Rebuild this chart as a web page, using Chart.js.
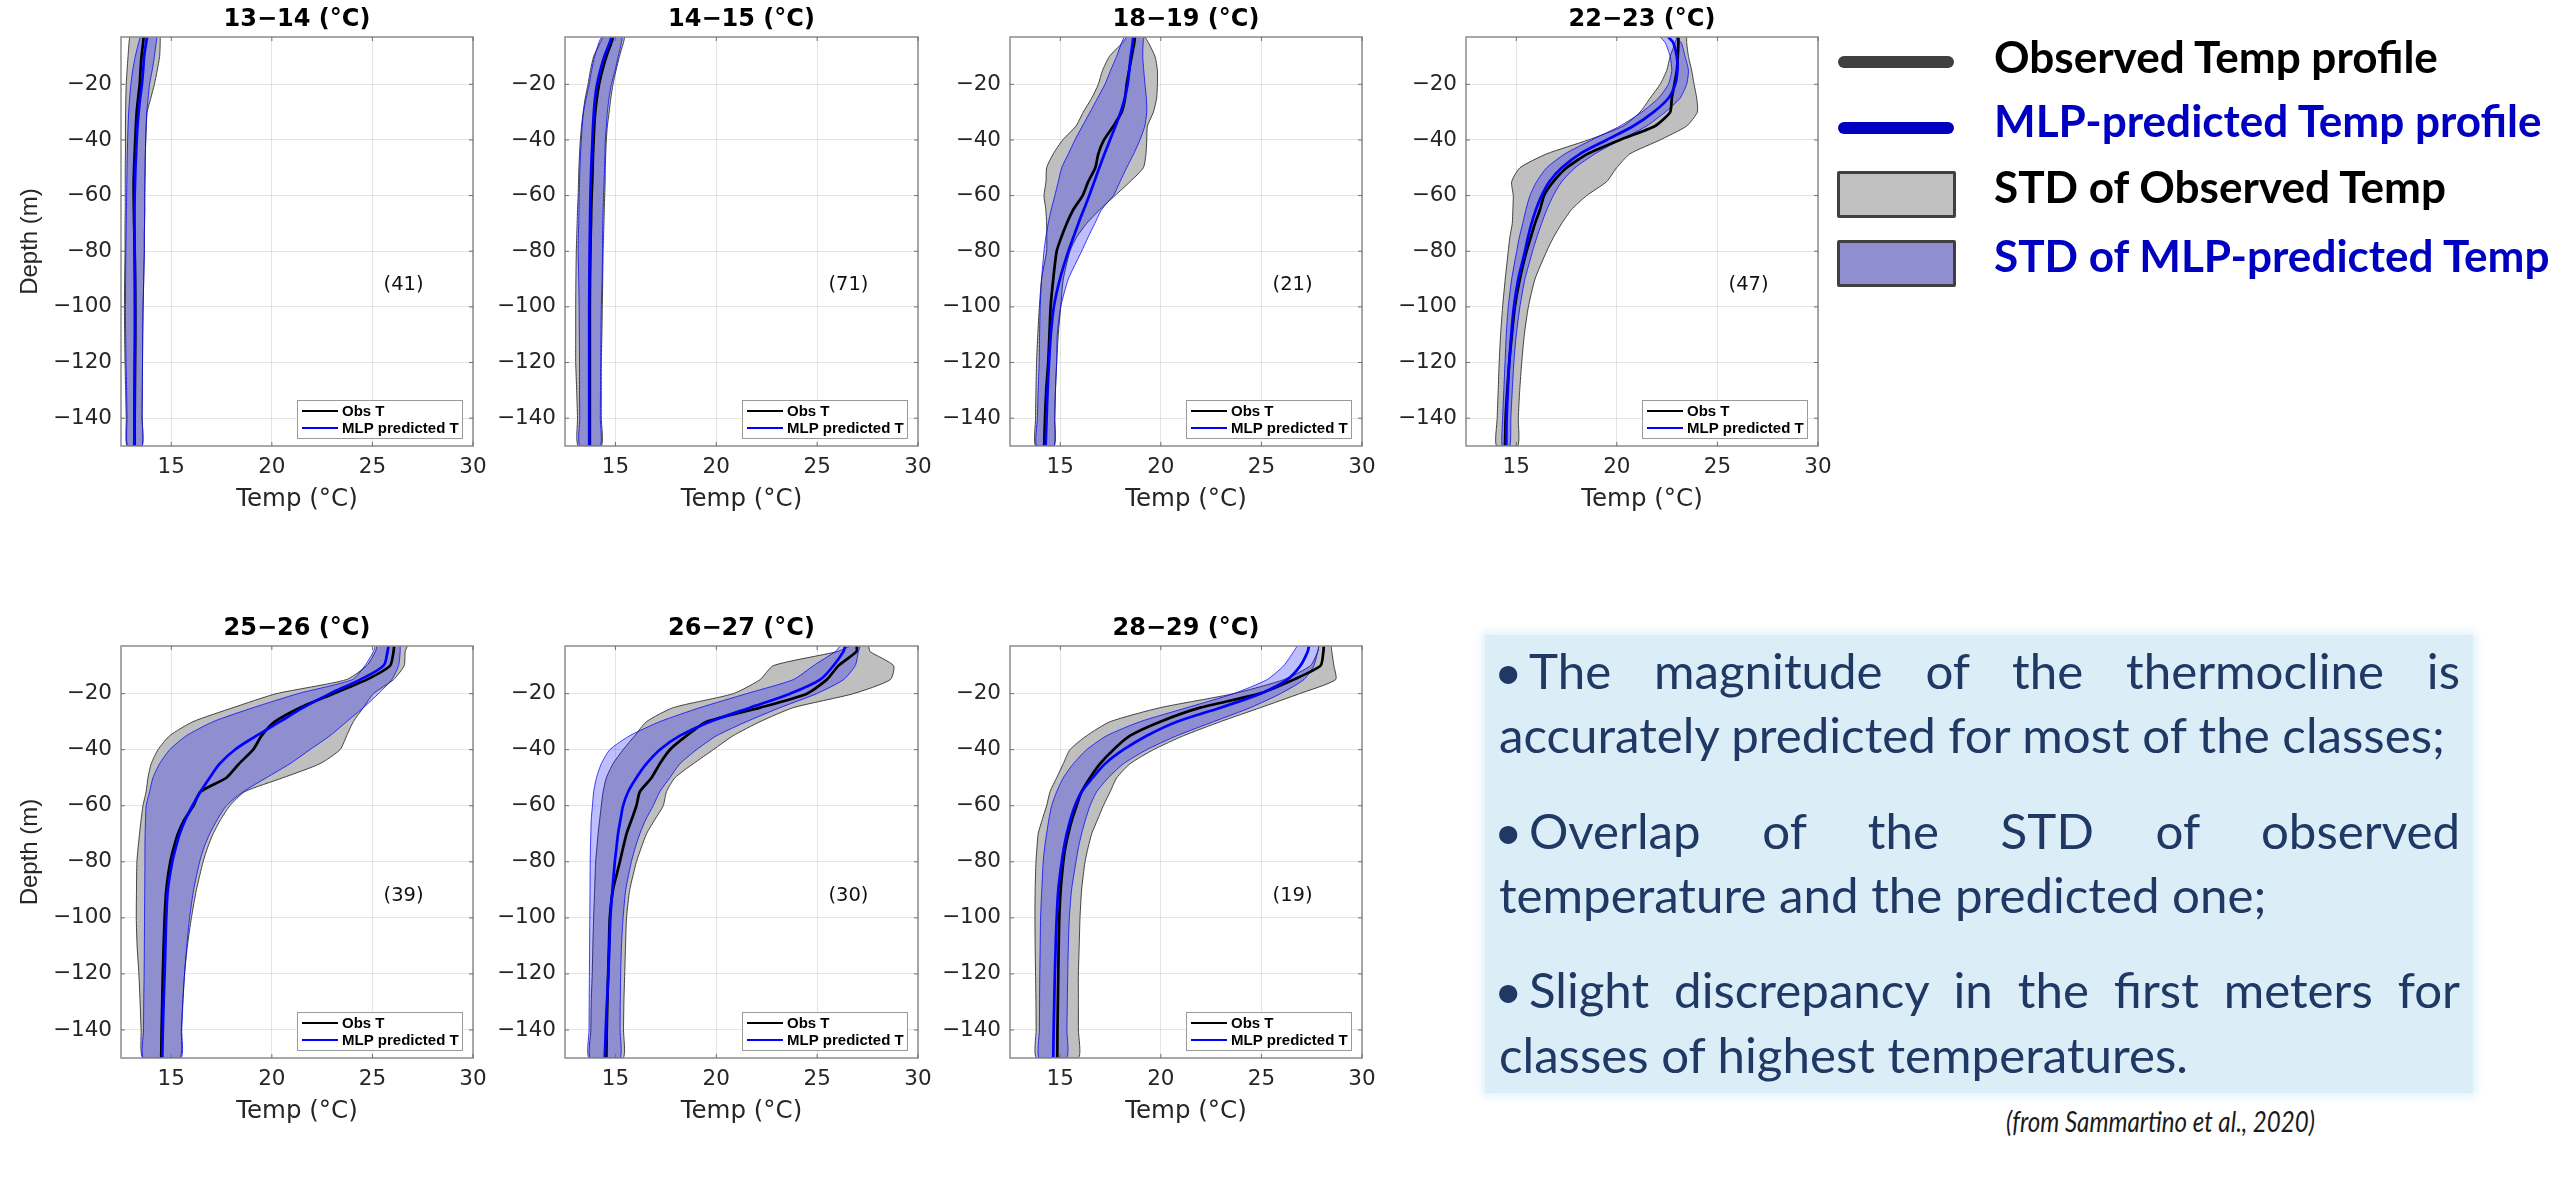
<!DOCTYPE html>
<html>
<head>
<meta charset="utf-8">
<script src="https://cdn.jsdelivr.net/npm/chart.js@4.4.1/dist/chart.umd.min.js"></script>
<style>
html, body { margin: 0; padding: 0; background: #ffffff; }
body { width: 2552px; height: 1196px; position: relative; overflow: hidden; }
canvas.panel { position: absolute; }
.txt { position: absolute; white-space: nowrap; transform-origin: 0 0; margin: 0; padding: 0; }
.swatch { position: absolute; box-sizing: border-box; }
#note { position: absolute; left: 1485px; top: 635px; width: 988px; height: 458px;
        background: #dbeef8; box-shadow: 0 0 8px 3px rgba(219,238,248,0.85); }
</style>
</head>
<body>
<div id="note"></div>
<script>
// ---------------- DATA ----------------
const xTicks = [15, 20, 25, 30];
const yTicks = [-140, -120, -100, -80, -60, -40, -20];
const depths = [-3, -5, -10, -15, -20, -25, -30, -35, -40, -45, -50, -55, -60, -65, -70, -75, -80, -90, -100, -110, -120, -130, -140, -150];
const classTitles = ['13\u221214 (\u00B0C)', '14\u221215 (\u00B0C)', '18\u221219 (\u00B0C)', '22\u221223 (\u00B0C)', '25\u221226 (\u00B0C)', '26\u221227 (\u00B0C)', '28\u221229 (\u00B0C)'];
const profileCounts = [41, 71, 21, 47, 39, 30, 19];

// 13-14
const obs1    = [13.63,13.60,13.52,13.47,13.43,13.35,13.28,13.24,13.21,13.18,13.15,13.13,13.13,13.14,13.15,13.17,13.18,13.20,13.21,13.21,13.20,13.19,13.18,13.18];
const pred1   = [13.80,13.75,13.65,13.60,13.54,13.45,13.38,13.32,13.28,13.25,13.22,13.20,13.18,13.17,13.17,13.18,13.18,13.19,13.19,13.19,13.18,13.17,13.17,13.16];
const obsLo1  = [12.93,12.90,12.85,12.80,12.76,12.74,12.73,12.72,12.72,12.72,12.71,12.71,12.71,12.71,12.70,12.70,12.70,12.68,12.67,12.68,12.70,12.73,12.76,12.80];
const obsHi1  = [14.45,14.45,14.42,14.30,14.16,13.98,13.80,13.76,13.73,13.71,13.70,13.69,13.68,13.68,13.67,13.66,13.66,13.63,13.60,13.58,13.57,13.56,13.55,13.55];
const predLo1 = [13.46,13.38,13.21,13.08,12.99,12.93,12.88,12.85,12.83,12.81,12.80,12.79,12.78,12.77,12.76,12.75,12.74,12.73,12.72,12.73,12.75,12.78,12.80,12.83];
const predHi1 = [14.29,14.25,14.16,14.05,13.92,13.85,13.78,13.75,13.73,13.71,13.70,13.69,13.68,13.68,13.67,13.66,13.66,13.63,13.60,13.58,13.57,13.56,13.55,13.55];
// 14-15
const obs2    = [14.88,14.80,14.55,14.35,14.19,14.08,14.00,13.95,13.92,13.89,13.87,13.85,13.82,13.80,13.79,13.77,13.76,13.74,13.73,13.73,13.73,13.73,13.73,13.73];
const pred2   = [14.80,14.72,14.45,14.25,14.09,13.99,13.93,13.89,13.86,13.83,13.80,13.78,13.76,13.75,13.74,13.73,13.72,13.71,13.70,13.70,13.70,13.70,13.70,13.70];
const obsLo2  = [14.39,14.25,13.92,13.76,13.64,13.50,13.40,13.32,13.26,13.22,13.19,13.17,13.15,13.12,13.10,13.08,13.06,13.04,13.03,13.03,13.03,13.08,13.12,13.15];
const obsHi2  = [15.46,15.40,15.20,15.03,14.88,14.77,14.69,14.60,14.55,14.52,14.50,14.49,14.47,14.45,14.43,14.41,14.39,14.37,14.35,14.33,14.30,14.30,14.30,14.30];
const predLo2 = [14.30,14.18,13.97,13.82,13.70,13.55,13.42,13.35,13.31,13.27,13.24,13.22,13.20,13.19,13.18,13.16,13.15,13.18,13.20,13.21,13.22,13.22,13.23,13.23];
const predHi2 = [15.35,15.30,15.14,14.98,14.80,14.68,14.60,14.55,14.50,14.48,14.46,14.44,14.41,14.39,14.37,14.36,14.36,14.34,14.30,14.28,14.27,14.26,14.25,14.25];
// 18-19
const obs3    = [18.71,18.68,18.55,18.42,18.30,18.22,18.05,17.64,17.17,16.89,16.74,16.39,16.11,15.65,15.32,15.05,14.82,14.65,14.52,14.46,14.40,14.30,14.24,14.20];
const pred3   = [18.63,18.60,18.50,18.43,18.35,18.20,18.00,17.75,17.47,17.20,16.94,16.69,16.44,16.17,15.90,15.65,15.40,14.98,14.68,14.53,14.44,14.37,14.32,14.27];
const obsLo3  = [18.30,18.10,17.44,17.10,16.89,16.56,16.14,15.78,15.12,14.65,14.32,14.29,14.19,14.28,14.32,14.33,14.32,14.07,13.96,13.88,13.82,13.79,13.77,13.77];
const obsHi3  = [19.21,19.38,19.71,19.83,19.83,19.79,19.63,19.33,19.30,19.26,19.13,18.47,17.72,16.97,16.31,15.81,15.48,15.15,15.02,14.90,14.82,14.76,14.72,14.68];
const predLo3 = [18.17,18.05,17.80,17.50,17.22,16.85,16.48,16.10,15.73,15.40,15.07,14.90,14.73,14.55,14.40,14.28,14.19,14.07,14.00,13.97,13.95,13.90,13.86,13.82];
const predHi3 = [19.16,19.12,19.10,19.15,19.21,19.28,19.30,19.20,18.96,18.65,18.30,17.97,17.64,17.06,16.72,16.38,16.06,15.40,15.02,14.85,14.82,14.76,14.73,14.70];
// 22-23
const obs4    = [23.06,23.06,23.03,22.98,22.86,22.73,22.65,21.90,20.15,18.55,17.50,16.84,16.38,16.18,15.93,15.72,15.51,15.18,14.93,14.78,14.65,14.55,14.47,14.44];
const pred4   = [22.56,22.80,22.98,23.01,22.90,22.56,21.82,20.82,19.49,18.17,17.26,16.64,16.26,15.98,15.76,15.58,15.43,15.10,14.88,14.75,14.65,14.58,14.52,14.50];
const obsLo4  = [22.98,22.90,22.65,22.48,22.15,21.65,21.15,20.32,18.58,16.51,15.18,14.77,14.85,14.83,14.80,14.68,14.60,14.45,14.32,14.22,14.15,14.10,14.05,14.02];
const obsHi4  = [23.47,23.47,23.56,23.72,23.84,23.97,24.00,23.47,22.15,20.65,19.99,19.49,18.50,17.75,17.26,16.85,16.51,15.93,15.60,15.40,15.27,15.17,15.10,15.07];
const predLo4 = [22.15,22.40,22.65,22.73,22.56,22.06,21.24,20.16,18.75,17.42,16.51,16.01,15.68,15.48,15.32,15.15,15.02,14.77,14.60,14.50,14.44,14.38,14.32,14.30];
const predHi4 = [22.90,23.20,23.39,23.56,23.47,23.14,22.40,21.48,20.16,18.91,17.92,17.26,16.84,16.52,16.26,16.02,15.81,15.43,15.18,15.00,14.88,14.80,14.73,14.68];
// 25-26
const obs5    = [26.08,26.05,25.88,24.72,23.06,21.40,20.15,19.49,19.07,18.37,17.74,16.45,16.10,15.65,15.33,15.12,14.95,14.75,14.67,14.62,14.58,14.55,14.52,14.50];
const pred5   = [25.80,25.75,25.55,24.39,22.89,21.56,20.40,19.24,18.16,17.41,16.91,16.45,16.05,15.70,15.42,15.22,15.05,14.83,14.75,14.71,14.67,14.62,14.58,14.55];
const obsLo5  = [25.22,25.15,24.72,23.70,20.23,18.07,16.08,14.92,14.34,14.00,13.84,13.75,13.59,13.50,13.42,13.35,13.29,13.27,13.26,13.30,13.39,13.45,13.50,13.59];
const obsHi5  = [26.74,26.63,26.58,26.05,25.05,24.55,24.05,23.72,23.39,22.39,20.56,18.65,17.91,17.45,17.08,16.80,16.58,16.25,16.00,15.80,15.66,15.57,15.50,15.42];
const predLo5 = [25.13,25.05,24.63,24.00,21.30,19.07,17.08,15.75,14.92,14.42,14.09,13.92,13.75,13.72,13.70,13.69,13.69,13.68,13.67,13.66,13.65,13.63,13.62,13.62];
const predHi5 = [26.38,26.38,26.30,25.96,25.30,24.55,23.72,22.89,21.89,20.90,19.73,18.57,17.74,17.28,16.91,16.62,16.41,16.11,15.91,15.77,15.66,15.58,15.52,15.48];
// 26-27
const obs6    = [26.97,26.95,26.06,25.48,24.49,22.17,19.52,18.53,17.70,17.20,16.79,16.21,16.04,15.80,15.55,15.38,15.22,14.88,14.72,14.68,14.64,14.60,14.57,14.55];
const pred6   = [26.39,26.30,25.81,25.15,23.66,21.67,19.69,18.20,17.20,16.54,16.04,15.63,15.38,15.25,15.13,15.05,14.97,14.85,14.75,14.70,14.65,14.58,14.52,14.47];
const obsLo6  = [26.64,26.00,22.83,22.17,20.84,17.86,16.54,15.96,15.38,14.88,14.55,14.39,14.30,14.22,14.14,14.08,14.02,13.97,13.92,13.88,13.85,13.80,13.78,13.76];
const obsHi6  = [27.55,27.63,28.79,28.63,26.80,23.82,22.17,20.84,19.85,18.86,17.95,17.53,17.37,16.95,16.54,16.28,16.04,15.71,15.55,15.50,15.46,15.42,15.40,15.38];
const predLo6 = [26.14,25.90,24.82,23.82,21.50,19.19,17.20,15.71,14.72,14.30,14.06,13.92,13.86,13.80,13.78,13.76,13.75,13.74,13.73,13.72,13.71,13.70,13.69,13.69];
const predHi6 = [27.14,27.05,26.89,26.31,24.98,23.16,21.50,20.02,19.02,18.20,17.70,17.20,16.87,16.50,16.21,15.98,15.79,15.51,15.38,15.30,15.26,15.24,15.23,15.22];
// 28-29
const obs7    = [28.10,28.08,27.94,26.60,24.90,21.96,19.97,18.47,17.64,16.98,16.48,16.06,15.81,15.58,15.40,15.25,15.15,15.02,14.95,14.92,14.90,14.88,14.86,14.85];
const pred7   = [27.36,27.30,26.94,26.28,24.95,22.96,20.80,19.30,18.14,17.23,16.61,16.06,15.73,15.50,15.32,15.18,15.07,14.90,14.82,14.77,14.73,14.70,14.67,14.65];
const obsLo7  = [27.86,27.80,27.44,26.11,23.62,19.97,17.48,16.31,15.48,15.15,14.82,14.49,14.32,14.10,13.90,13.84,13.79,13.75,13.74,13.75,13.77,13.79,13.80,13.82];
const obsHi7  = [28.47,28.50,28.60,28.69,26.90,24.95,22.96,21.13,19.63,18.47,17.81,17.48,17.14,16.85,16.56,16.38,16.23,16.06,15.98,15.94,15.90,15.90,15.90,15.90];
const predLo7 = [26.78,26.60,26.11,25.28,23.62,21.30,18.97,17.31,16.31,15.65,15.15,14.82,14.57,14.43,14.32,14.22,14.15,14.08,14.02,14.00,13.98,13.97,13.96,13.95];
const predHi7 = [27.86,27.80,27.61,27.11,25.95,24.45,22.62,20.80,19.30,18.14,17.39,16.81,16.48,16.25,16.06,15.90,15.78,15.56,15.45,15.40,15.37,15.35,15.33,15.32];

const countLabelPos = { x: 26.55, y: -92 };

// --------------- LAYOUT ---------------
const panels = [
  { obs: obs1, pred: pred1, obsLo: obsLo1, obsHi: obsHi1, predLo: predLo1, predHi: predHi1 },
  { obs: obs2, pred: pred2, obsLo: obsLo2, obsHi: obsHi2, predLo: predLo2, predHi: predHi2 },
  { obs: obs3, pred: pred3, obsLo: obsLo3, obsHi: obsHi3, predLo: predLo3, predHi: predHi3 },
  { obs: obs4, pred: pred4, obsLo: obsLo4, obsHi: obsHi4, predLo: predLo4, predHi: predHi4 },
  { obs: obs5, pred: pred5, obsLo: obsLo5, obsHi: obsHi5, predLo: predLo5, predHi: predHi5 },
  { obs: obs6, pred: pred6, obsLo: obsLo6, obsHi: obsHi6, predLo: predLo6, predHi: predHi6 },
  { obs: obs7, pred: pred7, obsLo: obsLo7, obsHi: obsHi7, predLo: predLo7, predHi: predHi7 }
];
const frames = [
  { l: 121,  t: 37,  r: 473,  b: 446,  first: true },
  { l: 565,  t: 37,  r: 918,  b: 446 },
  { l: 1010, t: 37,  r: 1362, b: 446 },
  { l: 1466, t: 37,  r: 1818, b: 446 },
  { l: 121,  t: 646, r: 473,  b: 1058, first: true },
  { l: 565,  t: 646, r: 918,  b: 1058 },
  { l: 1010, t: 646, r: 1362, b: 1058 }
];
const PAD_L = 105, PAD_T = 37, PAD_R = 25, PAD_B = 68;
const WIDE = '"DejaVu Sans", Verdana, sans-serif';
const ARIAL = '"Liberation Sans", Arial, Helvetica, sans-serif';

Chart.defaults.font.family = WIDE;

function profile(arr) { return arr.map((v, i) => ({ x: v, y: depths[i] })); }
function band(lo, hi) {
  const pts = lo.map((v, i) => ({ x: v, y: depths[i] }));
  for (let i = hi.length - 1; i >= 0; i--) pts.push({ x: hi[i], y: depths[i] });
  return pts;
}

const decor = {
  id: 'decor',
  afterDatasetsDraw(chart, args, opts) {
    const { ctx, chartArea: a, scales: { x, y } } = chart;
    ctx.save();
    // axes box
    ctx.strokeStyle = '#8c8c8c';
    ctx.lineWidth = 1.5;
    ctx.strokeRect(a.left, a.top, a.right - a.left, a.bottom - a.top);
    // small inward tick marks (MATLAB style)
    ctx.strokeStyle = '#6e6e6e';
    ctx.lineWidth = 1;
    ctx.beginPath();
    xTicks.forEach(v => {
      const px = x.getPixelForValue(v);
      ctx.moveTo(px, a.bottom); ctx.lineTo(px, a.bottom - 4);
      ctx.moveTo(px, a.top); ctx.lineTo(px, a.top + 4);
    });
    yTicks.forEach(v => {
      const py = y.getPixelForValue(v);
      ctx.moveTo(a.left, py); ctx.lineTo(a.left + 4, py);
      ctx.moveTo(a.right, py); ctx.lineTo(a.right - 4, py);
    });
    ctx.stroke();
    // title
    ctx.fillStyle = '#000';
    ctx.textAlign = 'center';
    ctx.textBaseline = 'middle';
    ctx.font = 'bold 24px ' + WIDE;
    ctx.fillText(opts.title, (a.left + a.right) / 2, a.top - 17);
    // count annotation
    ctx.font = '19.5px ' + WIDE;
    ctx.fillStyle = '#111';
    ctx.fillText('(' + opts.count + ')', x.getPixelForValue(countLabelPos.x), y.getPixelForValue(countLabelPos.y));
    // inset legend
    const bw = 165, bh = 38;
    const bx = a.right - 11 - bw, by = a.bottom - 8 - bh;
    ctx.fillStyle = '#ffffff';
    ctx.fillRect(bx, by, bw, bh);
    ctx.strokeStyle = '#9a9a9a';
    ctx.lineWidth = 1;
    ctx.strokeRect(bx + 0.5, by + 0.5, bw, bh);
    const rows = [['Obs T', '#000000'], ['MLP predicted T', '#0000ff']];
    ctx.textAlign = 'left';
    ctx.font = 'bold 15px ' + ARIAL;
    rows.forEach((r, i) => {
      const ry = by + 11 + i * 17;
      ctx.strokeStyle = r[1];
      ctx.lineWidth = 2.2;
      ctx.beginPath();
      ctx.moveTo(bx + 5, ry);
      ctx.lineTo(bx + 41, ry);
      ctx.stroke();
      ctx.fillStyle = '#000';
      ctx.fillText(r[0], bx + 45, ry + 1);
    });
    ctx.restore();
  }
};

panels.forEach((p, i) => {
  const f = frames[i];
  const cv = document.createElement('canvas');
  cv.className = 'panel';
  const w = PAD_L + (f.r - f.l) + PAD_R;
  const h = PAD_T + (f.b - f.t) + PAD_B;
  cv.width = w; cv.height = h;
  cv.style.width = w + 'px'; cv.style.height = h + 'px';
  cv.style.left = (f.l - PAD_L) + 'px';
  cv.style.top = (f.t - PAD_T) + 'px';
  document.body.appendChild(cv);

  new Chart(cv, {
    type: 'line',
    data: {
      datasets: [
        { label: 'STD of Observed Temp', data: band(p.obsLo, p.obsHi), fill: 'shape',
          backgroundColor: 'rgb(191,191,191)', borderColor: 'rgba(40,40,40,0.85)', borderWidth: 1,
          pointRadius: 0, tension: 0.2, order: 4 },
        { label: 'STD of MLP-predicted Temp', data: band(p.predLo, p.predHi), fill: 'shape',
          backgroundColor: 'rgba(0,0,255,0.25)', borderColor: 'rgba(0,0,255,0.75)', borderWidth: 1,
          pointRadius: 0, tension: 0.2, order: 3 },
        { label: 'Obs T', data: profile(p.obs), fill: false, borderColor: '#000000', borderWidth: 2.7,
          pointRadius: 0, tension: 0.2, order: 2 },
        { label: 'MLP predicted T', data: profile(p.pred), fill: false, borderColor: '#0000ff', borderWidth: 2.7,
          pointRadius: 0, tension: 0.3, order: 1 }
      ]
    },
    options: {
      responsive: false,
      maintainAspectRatio: false,
      animation: false,
      events: [],
      layout: { padding: { top: PAD_T, right: PAD_R, left: 0, bottom: 0 } },
      plugins: {
        legend: { display: false },
        tooltip: { enabled: false },
        title: { display: false },
        decor: { title: classTitles[i], count: profileCounts[i] }
      },
      scales: {
        x: {
          type: 'linear', min: 12.5, max: 30,
          afterBuildTicks: ax => { ax.ticks = xTicks.map(v => ({ value: v })); },
          afterFit: s => { s.height = PAD_B; },
          grid: { color: 'rgba(0,0,0,0.10)', lineWidth: 1, drawTicks: false },
          border: { display: false },
          ticks: { padding: 9, color: '#262626', font: { size: 21.5, family: WIDE }, maxRotation: 0, autoSkip: false,
                   callback: v => String(v) },
          title: { display: true, text: 'Temp (\u00B0C)', color: '#262626', font: { size: 24.5, family: WIDE }, padding: 0 }
        },
        y: {
          type: 'linear', min: -150, max: -3,
          afterBuildTicks: ax => { ax.ticks = yTicks.map(v => ({ value: v })); },
          afterFit: s => { s.width = PAD_L; },
          grid: { color: 'rgba(0,0,0,0.10)', lineWidth: 1, drawTicks: false },
          border: { display: false },
          ticks: { padding: 9, color: '#262626', font: { size: 21.5, family: WIDE }, autoSkip: false,
                   callback: v => String(v).replace('-', '\u2212') },
          title: { display: !!f.first, text: 'Depth (m)', color: '#262626', font: { size: 24, family: ARIAL }, padding: 0 }
        }
      }
    },
    plugins: [decor]
  });
});

// --------------- TEXT ELEMENTS ---------------
const mctx = document.createElement('canvas').getContext('2d');
function fontStr(o) { return (o.style || 'normal') + ' ' + (o.weight || 'normal') + ' ' + o.size + 'px ' + o.family; }
function addText(text, o) {
  mctx.font = fontStr(o);
  const m = mctx.measureText(text);
  const A = m.fontBoundingBoxAscent, D = m.fontBoundingBoxDescent;
  const el = document.createElement('div');
  el.className = 'txt';
  el.textContent = text;
  el.style.font = fontStr(o);
  el.style.lineHeight = o.size + 'px';
  el.style.color = o.color;
  el.style.left = o.left + 'px';
  el.style.top = (o.baseline - ((o.size - A - D) / 2 + A)) + 'px';
  let sx = o.scale || 1;
  if (o.width) sx = o.width / m.width;
  if (o.justifyWidth) {
    el.style.whiteSpace = 'normal';
    el.style.width = (o.justifyWidth / sx) + 'px';
    el.style.textAlign = 'justify';
    el.style.textAlignLast = 'justify';
  }
  el.style.transform = 'scaleX(' + sx + ')';
  document.body.appendChild(el);
  return sx;
}
function natural(text, o) { mctx.font = fontStr(o); return mctx.measureText(text).width; }

// top-right legend
const legendItems = [
  { text: 'Observed Temp profile', color: '#000000', baseline: 73, kind: 'line', sw: '#404040', y: 62 },
  { text: 'MLP-predicted Temp profile', color: '#0000c0', baseline: 137, kind: 'line', sw: '#0000c0', y: 128 },
  { text: 'STD of Observed Temp', color: '#000000', baseline: 203, kind: 'box', sw: '#c0c0c0', y: 171 },
  { text: 'STD of MLP-predicted Temp', color: '#0000c0', baseline: 272, kind: 'box', sw: '#8f8fcf', y: 240 }
];
const legFont = { family: 'Lato, "Open Sans", sans-serif', size: 44, weight: 'bold' };
const legScale = 308 / natural('Observed Temp', legFont);
legendItems.forEach(it => {
  const s = document.createElement('div');
  s.className = 'swatch';
  if (it.kind === 'line') {
    s.style.cssText += 'left:1838px;width:116px;height:12px;border-radius:6px;background:' + it.sw + ';top:' + (it.y - 6) + 'px;';
  } else {
    s.style.cssText += 'left:1837px;width:119px;height:47px;border:3px solid #404040;border-radius:2px;background:' + it.sw + ';top:' + it.y + 'px;';
  }
  document.body.appendChild(s);
  addText(it.text, Object.assign({}, legFont, { color: it.color, left: 1994, baseline: it.baseline, scale: legScale }));
});

// note box text
const noteFont = { family: 'Lato, "Open Sans", sans-serif', size: 49, weight: 'normal' };
const noteColor = '#1f3864';
const noteLines = [
  { text: 'The magnitude of the thermocline is', bullet: true, baseline: 689 },
  { text: 'accurately predicted for most of the classes;', bullet: false, baseline: 753 },
  { text: 'Overlap of the STD of observed', bullet: true, baseline: 849 },
  { text: 'temperature and the predicted one;', bullet: false, baseline: 913 },
  { text: 'Slight discrepancy in the first meters for', bullet: true, baseline: 1008 },
  { text: 'classes of highest temperatures.', bullet: false, baseline: 1073 }
];
const noteScale = 949 / natural(noteLines[1].text, noteFont);
noteLines.forEach(ln => {
  if (ln.bullet) {
    addText('\u2022', Object.assign({}, noteFont, { color: noteColor, left: 1494, baseline: ln.baseline, scale: 1 }));
    addText(ln.text, Object.assign({}, noteFont, { color: noteColor, left: 1529, baseline: ln.baseline, scale: noteScale, justifyWidth: 931 }));
  } else {
    addText(ln.text, Object.assign({}, noteFont, { color: noteColor, left: 1499, baseline: ln.baseline, scale: noteScale }));
  }
});

// citation
addText('(from Sammartino et al., 2020)', { family: 'Lato, "Open Sans", sans-serif', size: 28, style: 'italic', weight: 'normal',
  color: '#1a1a1a', left: 2006, baseline: 1132, width: 309 });
</script>
</body>
</html>
